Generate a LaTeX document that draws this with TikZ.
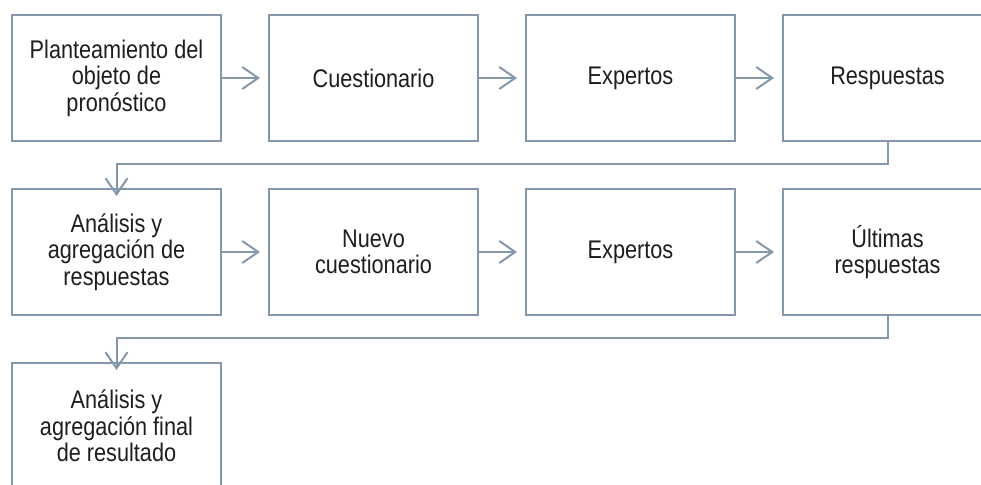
\documentclass[tikz,border=0pt]{standalone}
\usepackage{fontspec}
\setmainfont{Liberation Sans}[FakeStretch=0.85]
\usetikzlibrary{arrows.meta}
\definecolor{edge}{HTML}{8497AB}
\definecolor{ink}{HTML}{1E1E1E}
\begin{document}
\begin{tikzpicture}[x=1pt,y=-1pt,
  box/.style={draw=edge,line width=2pt,fill=white,minimum width=209pt,minimum height=126pt,
    align=center,text=ink,font=\fontsize{25.5}{26.5}\selectfont,inner sep=0pt},
  conn/.style={draw=edge,line width=2pt,-{Straight Barb[length=16pt,width=22pt,line width=2pt]}}]
\useasboundingbox (0,0) rectangle (981,484);
\clip (0,0) rectangle (981,484);
\fill[white] (0,0) rectangle (981,484);
\node[box] (a1) at (116.5,78) {Planteamiento del\\objeto de\\pronóstico};
\node[box] (a2) at (373.5,78) {Cuestionario};
\node[box] (a3) at (630.5,78) {Expertos};
\node[box] (a4) at (887.5,78) {Respuestas};
\node[box] (b1) at (116.5,252) {Análisis y\\agregación de\\respuestas};
\node[box] (b2) at (373.5,252) {Nuevo\\cuestionario};
\node[box] (b3) at (630.5,252) {Expertos};
\node[box] (b4) at (887.5,252) {Últimas\\respuestas};
\node[box] (c1) at (116.5,426) {Análisis y\\agregación final\\de resultado};
\draw[conn] (a1.east) -- ([xshift=-8pt]a2.west);
\draw[conn] (a2.east) -- ([xshift=-8pt]a3.west);
\draw[conn] (a3.east) -- ([xshift=-8pt]a4.west);
\draw[conn] (b1.east) -- ([xshift=-8pt]b2.west);
\draw[conn] (b2.east) -- ([xshift=-8pt]b3.west);
\draw[conn] (b3.east) -- ([xshift=-8pt]b4.west);
\coordinate (k1) at (116.5,164);
\coordinate (k2) at (116.5,338);
\draw[conn] (a4.south) |- (k1) -- ([yshift=-8pt]b1.north);
\draw[conn] (b4.south) |- (k2) -- ([yshift=-8pt]c1.north);
\end{tikzpicture}
\end{document}
